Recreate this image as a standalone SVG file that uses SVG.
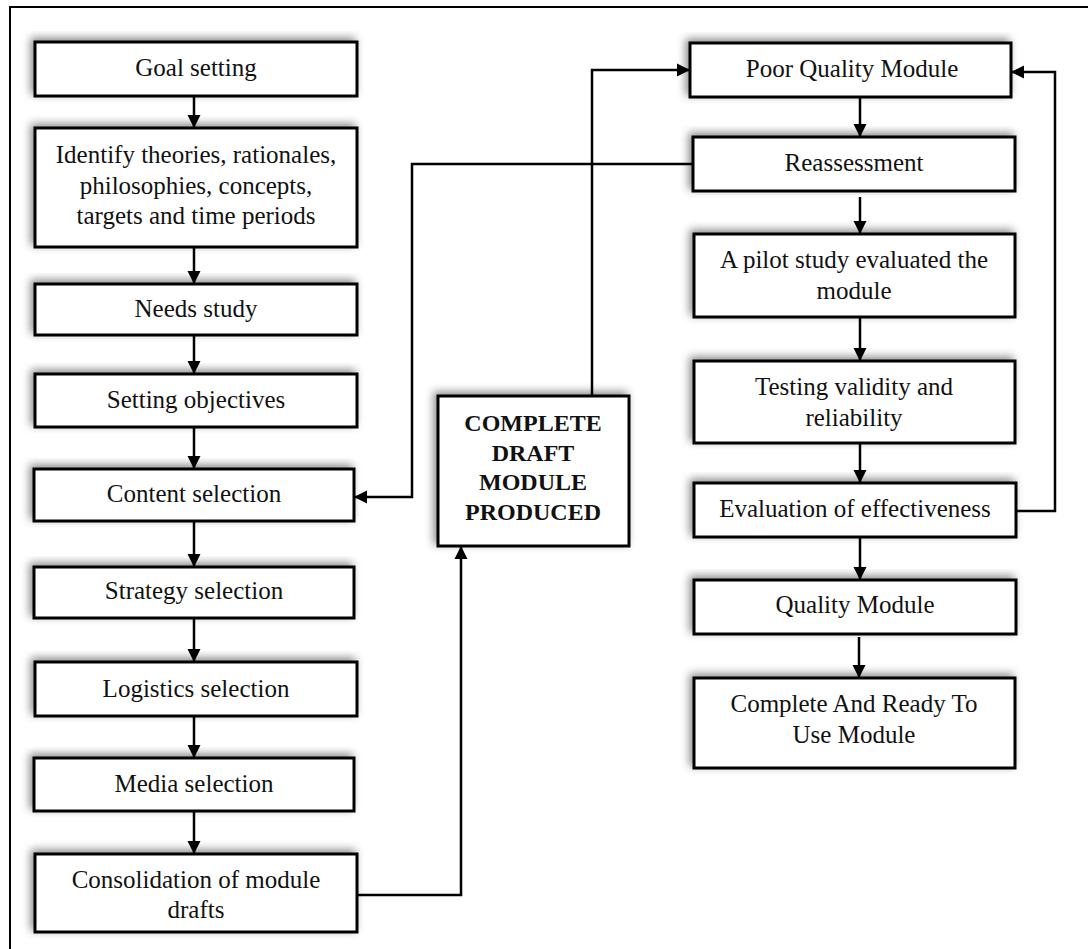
<svg xmlns="http://www.w3.org/2000/svg" width="1088" height="949" viewBox="0 0 1088 949">
<style>
.box{fill:#fff;stroke:#000;stroke-width:3;filter:url(#sh)}
.t{font-family:"Liberation Serif","Times New Roman",serif;font-size:25px;fill:#111;text-anchor:middle}
.b{font-family:"Liberation Serif","Times New Roman",serif;font-size:24px;font-weight:bold;fill:#111;text-anchor:middle}
.c{fill:none;stroke:#000;stroke-width:2.5;marker-end:url(#ah)}
.n{fill:none;stroke:#000;stroke-width:2.5}
</style>
<defs>
<filter id="sh" x="-10%" y="-20%" width="120%" height="140%">
<feDropShadow dx="-3" dy="-3" stdDeviation="4" flood-color="#000" flood-opacity="0.45"/>
</filter>
<marker id="ah" markerUnits="userSpaceOnUse" markerWidth="14" markerHeight="14" viewBox="0 0 14 14" refX="13" refY="7" orient="auto">
<path d="M0,0.5 L13,7 L0,13.5 Z" fill="#000"/>
</marker>
</defs>
<rect width="1088" height="949" fill="#fff"/>
<path d="M10,949 V7 H1088" fill="none" stroke="#000" stroke-width="2"/>

<g id="connectors">
<path class="c" d="M194,96 V128"/>
<path class="c" d="M194,247 V284"/>
<path class="c" d="M194,335 V374"/>
<path class="c" d="M194,427 V469"/>
<path class="c" d="M194,521 V567"/>
<path class="c" d="M194,618 V662"/>
<path class="c" d="M194,716 V758"/>
<path class="c" d="M194,811 V854"/>
<path class="c" d="M357,895 H461 V546"/>
<path class="c" d="M592,396 V70 H690"/>
<path class="c" d="M693,164 H412 V497 H354"/>
<path class="c" d="M860,97 V137"/>
<path class="c" d="M860,197 V234"/>
<path class="c" d="M860,317 V361"/>
<path class="c" d="M860,443 V483"/>
<path class="c" d="M860,537 V580"/>
<path class="c" d="M859,637 V678"/>
<path class="c" d="M1016,511 H1055 V72 H1011"/>
</g>

<g id="goal"><rect class="box" x="35" y="42" width="322" height="54"/><text class="t" x="196" y="76">Goal setting</text></g>
<g id="identify"><rect class="box" x="35" y="128" width="322" height="119"/>
<text class="t" x="196" y="163">Identify theories, rationales,</text>
<text class="t" x="196" y="194">philosophies, concepts,</text>
<text class="t" x="196" y="224">targets and time periods</text></g>
<g id="needs"><rect class="box" x="35" y="284" width="322" height="51"/><text class="t" x="196" y="317">Needs study</text></g>
<g id="objectives"><rect class="box" x="35" y="374" width="322" height="53"/><text class="t" x="196" y="408">Setting objectives</text></g>
<g id="content"><rect class="box" x="34" y="469" width="320" height="52"/><text class="t" x="194" y="502">Content selection</text></g>
<g id="strategy"><rect class="box" x="34" y="567" width="320" height="51"/><text class="t" x="194" y="599">Strategy selection</text></g>
<g id="logistics"><rect class="box" x="35" y="662" width="322" height="54"/><text class="t" x="196" y="697">Logistics selection</text></g>
<g id="media"><rect class="box" x="34" y="758" width="320" height="53"/><text class="t" x="194" y="792">Media selection</text></g>
<g id="consolidation"><rect class="box" x="35" y="854" width="322" height="78"/>
<text class="t" x="196" y="888">Consolidation of module</text>
<text class="t" x="196" y="918">drafts</text></g>

<g id="draft"><rect class="box" x="438" y="396" width="191" height="150"/>
<text class="b" x="533" y="431">COMPLETE</text>
<text class="b" x="533" y="461">DRAFT</text>
<text class="b" x="533" y="490">MODULE</text>
<text class="b" x="533" y="520">PRODUCED</text></g>

<g id="poor"><rect class="box" x="690" y="43" width="321" height="54"/><text class="t" x="852" y="77">Poor Quality Module</text></g>
<g id="reassess"><rect class="box" x="693" y="137" width="322" height="54"/><text class="t" x="854" y="171">Reassessment</text></g>
<g id="pilot"><rect class="box" x="694" y="234" width="321" height="83"/>
<text class="t" x="854" y="268">A pilot study evaluated the</text>
<text class="t" x="854" y="299">module</text></g>
<g id="testing"><rect class="box" x="694" y="361" width="321" height="82"/>
<text class="t" x="854" y="395">Testing validity and</text>
<text class="t" x="854" y="426">reliability</text></g>
<g id="evaluation"><rect class="box" x="694" y="483" width="322" height="54"/><text class="t" x="855" y="517">Evaluation of effectiveness</text></g>
<g id="quality"><rect class="box" x="694" y="580" width="322" height="54"/><text class="t" x="855" y="613">Quality Module</text></g>
<g id="ready"><rect class="box" x="694" y="678" width="321" height="90"/>
<text class="t" x="854" y="712">Complete And Ready To</text>
<text class="t" x="854" y="743">Use Module</text></g>
</svg>
